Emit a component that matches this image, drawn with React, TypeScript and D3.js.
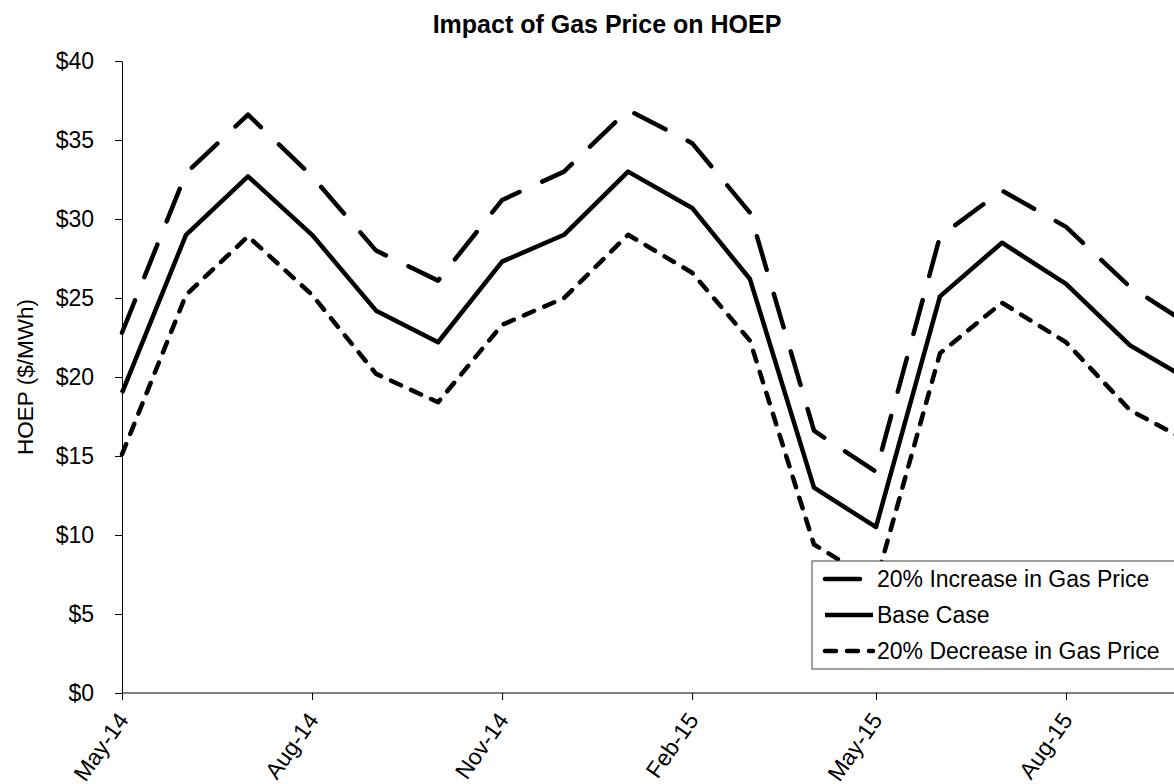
import * as d3 from "d3";
import { useEffect, useRef } from "react";

const width = 1174;
const height = 784;

// monthly points, May-14 .. Oct-15
const months = [
  "2014-05", "2014-06", "2014-07", "2014-08", "2014-09", "2014-10",
  "2014-11", "2014-12", "2015-01", "2015-02", "2015-03", "2015-04",
  "2015-05", "2015-06", "2015-07", "2015-08", "2015-09", "2015-10",
];
const increaseCase = [22.8, 32.9, 36.6, 32.7, 28.0, 26.1, 31.2, 33.0, 36.9, 34.8, 30.4, 16.6, 14.0, 28.9, 31.8, 29.5, 25.7, 23.2];
const baseCase = [19.0, 29.0, 32.7, 29.0, 24.2, 22.2, 27.3, 29.0, 33.0, 30.7, 26.2, 13.0, 10.5, 25.1, 28.5, 25.9, 22.0, 19.7];
const decreaseCase = [15.1, 25.2, 28.9, 25.2, 20.2, 18.4, 23.3, 25.0, 29.0, 26.6, 22.3, 9.4, 7.0, 21.5, 24.7, 22.2, 17.9, 15.8];

const seriesNames = ["20% Increase in Gas Price", "Base Case", "20% Decrease in Gas Price"];
const seriesDash = ["35 25", null, "11 11"];

const xTickMonths = ["2014-05", "2014-08", "2014-11", "2015-02", "2015-05", "2015-08"];
const yTickValues = [0, 5, 10, 15, 20, 25, 30, 35, 40];

const font = "'Liberation Sans', Arial, sans-serif";

const App = () => {
  const ref = useRef<SVGSVGElement | null>(null);

  useEffect(() => {
    const parse = d3.timeParse("%Y-%m");
    const fmt = d3.timeFormat("%b-%y");
    const dates = months.map((m) => parse(m) as Date);

    const x = d3
      .scaleTime()
      .domain([parse("2014-05") as Date, parse("2015-08") as Date])
      .range([122, 1066]);
    const y = d3.scaleLinear().domain([0, 40]).range([693, 61]);

    const svg = d3.select(ref.current);
    svg.selectAll("*").remove();

    svg
      .append("text")
      .attr("x", 607)
      .attr("y", 33)
      .attr("text-anchor", "middle")
      .attr("font-family", font)
      .attr("font-weight", "bold")
      .attr("font-size", 25)
      .text("Impact of Gas Price on HOEP");

    svg
      .append("text")
      .attr("transform", "translate(33,377) rotate(-90)")
      .attr("text-anchor", "middle")
      .attr("font-family", font)
      .attr("font-size", 22.5)
      .text("HOEP ($/MWh)");

    // y axis
    const yAxis = d3
      .axisLeft(y)
      .tickValues(yTickValues)
      .tickFormat((d) => "$" + d)
      .tickSize(7)
      .tickSizeOuter(0)
      .tickPadding(21);
    const gy = svg.append("g").attr("transform", "translate(122,0)").call(yAxis);
    gy.selectAll("text").attr("font-family", font).attr("font-size", 23).attr("fill", "#000");
    gy.selectAll("line,path").attr("stroke", "#000");

    // x axis
    const xAxis = d3
      .axisBottom(x)
      .tickValues(xTickMonths.map((m) => parse(m) as Date))
      .tickFormat((d) => fmt(d as Date))
      .tickSize(7)
      .tickSizeOuter(0);
    const gx = svg.append("g").attr("transform", "translate(0,693)").call(xAxis);
    gx.select(".domain").remove();
    gx.selectAll("line").attr("stroke", "#000");
    gx.selectAll("text")
      .attr("font-family", font)
      .attr("font-size", 23)
      .attr("fill", "#000")
      .attr("text-anchor", "end")
      .attr("dy", null)
      .attr("y", 0)
      .attr("transform", "translate(7,27) rotate(-55)");
    gx.append("line")
      .attr("x1", 122)
      .attr("x2", width + 40)
      .attr("stroke", "#000");

    // lines
    const allSeries = [increaseCase, baseCase, decreaseCase];
    const line = d3
      .line<number>()
      .x((d, i) => x(dates[i]))
      .y((d) => y(d));

    allSeries.forEach((vals, i) => {
      svg
        .append("path")
        .attr("d", line(vals))
        .attr("fill", "none")
        .attr("stroke", "#000")
        .attr("stroke-width", 4.5)
        .attr("stroke-linejoin", "round")
        .attr("stroke-linecap", seriesDash[i] ? "round" : "butt")
        .attr("stroke-dasharray", seriesDash[i]);
    });

    // legend
    const legend = svg.append("g");
    legend
      .append("rect")
      .attr("x", 812)
      .attr("y", 561)
      .attr("width", 420)
      .attr("height", 108)
      .attr("fill", "#fff")
      .attr("stroke", "#444");
    seriesNames.forEach((name, i) => {
      const ly = 579 + i * 36;
      legend
        .append("line")
        .attr("x1", 825)
        .attr("x2", 873)
        .attr("y1", ly)
        .attr("y2", ly)
        .attr("stroke", "#000")
        .attr("stroke-width", 4.5)
        .attr("stroke-linecap", seriesDash[i] ? "round" : "butt")
        .attr("stroke-dasharray", seriesDash[i]);
      legend
        .append("text")
        .attr("x", 877)
        .attr("y", ly)
        .attr("dy", "0.35em")
        .attr("font-family", font)
        .attr("font-size", 23)
        .text(name);
    });
  }, []);

  return (
    <svg
      ref={ref}
      width={width}
      height={height}
      style={{ position: "absolute", left: 0, top: 0, background: "#fff" }}
    />
  );
};

export default App;
